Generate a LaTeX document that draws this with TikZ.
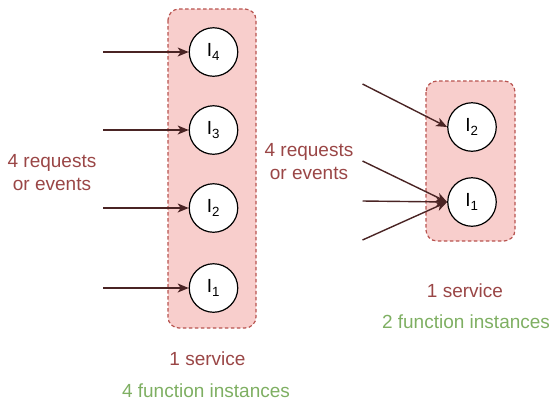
\documentclass[tikz,border=0pt]{standalone}
\usepackage{fontspec}
\setmainfont{Liberation Sans}
\usetikzlibrary{arrows.meta}
\definecolor{boxfill}{HTML}{F8CECC}
\definecolor{boxline}{HTML}{B85450}
\definecolor{redtext}{HTML}{9A4646}
\definecolor{greentext}{HTML}{7EAF62}
\definecolor{arrowcol}{HTML}{4A2424}
\tikzset{
  svcbox/.style={draw=boxline, fill=boxfill, dashed, dash pattern=on 3.5bp off 2.5bp, line width=1.2bp, rounded corners=11bp},
  inst/.style={circle, draw=black, fill=white, line width=1.2bp, minimum size=48.5bp, inner sep=0pt, font=\fontsize{19bp}{23bp}\selectfont},
  req/.style={draw=arrowcol, line width=1.4bp, -{Stealth[length=11bp, width=9bp, inset=3bp]}},
  redlbl/.style={text=redtext, align=center, font=\fontsize{19bp}{23bp}\selectfont},
  greenlbl/.style={text=greentext, align=center, font=\fontsize{19bp}{23bp}\selectfont}
}
\begin{document}
\begin{tikzpicture}[x=1bp, y=-1bp]
\useasboundingbox (0,0) rectangle (552,403);
% left service
\path[svcbox] (168,9) rectangle (256,328);
\node[inst] (a4) at (213.5,52) {I\textsubscript{4}};
\node[inst] (a3) at (213.5,130) {I\textsubscript{3}};
\node[inst] (a2) at (213.5,208) {I\textsubscript{2}};
\node[inst] (a1) at (213.5,288) {I\textsubscript{1}};
\coordinate (s4) at (103,52);
\coordinate (s3) at (103,130);
\coordinate (s2) at (103,208);
\coordinate (s1) at (103,288);
\draw[req] (s4) -- (a4.west);
\draw[req] (s3) -- (a3.west);
\draw[req] (s2) -- (a2.west);
\draw[req] (s1) -- (a1.west);
\node[redlbl] (lreq) at (52,173) {4 requests\\or events};
\node[redlbl] (lsvc) at (207.5,359) {1 service};
\node[greenlbl] (lfun) at (206,391) {4 function instances};
% right service
\path[svcbox] (426,81) rectangle (515,241);
\node[inst] (b2) at (472,127) {I\textsubscript{2}};
\node[inst] (b1) at (472,202) {I\textsubscript{1}};
\coordinate (t1) at (362.5,84);
\coordinate (t2) at (362.5,161);
\coordinate (t3) at (362.5,201);
\coordinate (t4) at (362.5,240);
\draw[req] (t1) -- (b2.west);
\draw[req] (t2) -- (b1.west);
\draw[req] (t3) -- (b1.west);
\draw[req] (t4) -- (b1.west);
\node[redlbl] (rreq) at (309,162) {4 requests\\or events};
\node[redlbl] (rsvc) at (465,291) {1 service};
\node[greenlbl] (rfun) at (466,322) {2 function instances};
\end{tikzpicture}
\end{document}
